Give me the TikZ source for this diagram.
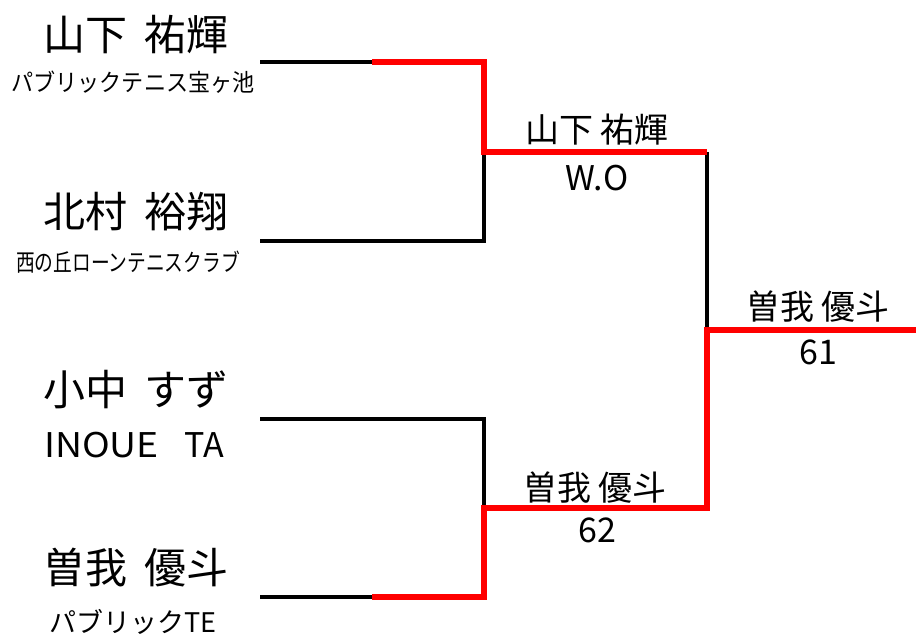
\documentclass[tikz,border=0pt]{standalone}
\usepackage{fontspec}
\usepackage{graphicx}
\setmainfont{Noto Sans CJK JP}
\newcommand{\nsp}{\hspace{0.4em}}
\begin{document}
\begin{tikzpicture}[x=1pt,y=-1pt,
  nm/.style={font=\fontsize{42}{44}\selectfont,inner sep=0pt},
  club/.style={font=\fontsize{24}{26}\selectfont,inner sep=0pt},
  mlabel/.style={font=\fontsize{34}{36}\selectfont,inner sep=0pt},
  lose/.style={line width=4pt,black,line join=miter,line cap=butt},
  win/.style={line width=6.5pt,red,line join=miter,line cap=butt}]
\useasboundingbox (0,0) rectangle (916,638);
% coordinates
\coordinate (p1) at (260,62);
\coordinate (p1m) at (372,62);
\coordinate (p1c) at (484,62);
\coordinate (p2) at (260,241);
\coordinate (p2c) at (484,241);
\coordinate (m1) at (484,152);
\coordinate (m1e) at (707,152);
\coordinate (p3) at (260,419);
\coordinate (p3c) at (484,419);
\coordinate (p4) at (260,597);
\coordinate (p4m) at (372,597);
\coordinate (p4c) at (484,597);
\coordinate (m2) at (484,508);
\coordinate (m2e) at (707,508);
\coordinate (f) at (707,330);
\coordinate (fe) at (916,330);
% texts
\node[nm] (n1) at (136,35) {山下\nsp 祐輝};
\node[club] (c1) at (133,82) {\scalebox{0.92}[1]{パブリックテニス宝ヶ池}};
\node[nm] (n2) at (136,212) {北村\nsp 裕翔};
\node[club] (c2) at (128,262) {\scalebox{0.78}[1]{西の丘ローンテニスクラブ}};
\node[nm] (n3) at (136,390) {小中\nsp すず};
\node[club,font=\fontsize{34}{36}\selectfont] (c3) at (134,445) {\scalebox{1.1}[1]{INOUE}\hspace{0.75em}TA};
\node[club,font=\fontsize{27}{29}\selectfont] (c4) at (133,622) {パブリックTE};
\node[nm] (n4) at (136,568) {曽我\nsp 優斗};
\node[mlabel] (w1) at (597,130) {山下 祐輝};
\node[mlabel] (s1) at (597,178) {W.O};
\node[mlabel] (w2) at (595,488) {曽我 優斗};
\node[mlabel] (s2) at (597,530) {62};
\node[mlabel] (w3) at (818,307) {曽我 優斗};
\node[mlabel] (s3) at (818,352) {61};
% black lines
\draw[lose] (p1) -- (p1m);
\draw[lose] (p2) -- (p2c) -- (m1);
\draw[lose] (m1e) -- (f);
\draw[lose] (p3) -- (p3c) -- (m2);
\draw[lose] (p4) -- (p4m);
% red lines
\draw[win] (p1m) -- (p1c) -- (m1) -- (m1e);
\draw[win] (p4m) -- (p4c) -- (m2) -- (m2e) -- (f) -- (fe);
\end{tikzpicture}
\end{document}
